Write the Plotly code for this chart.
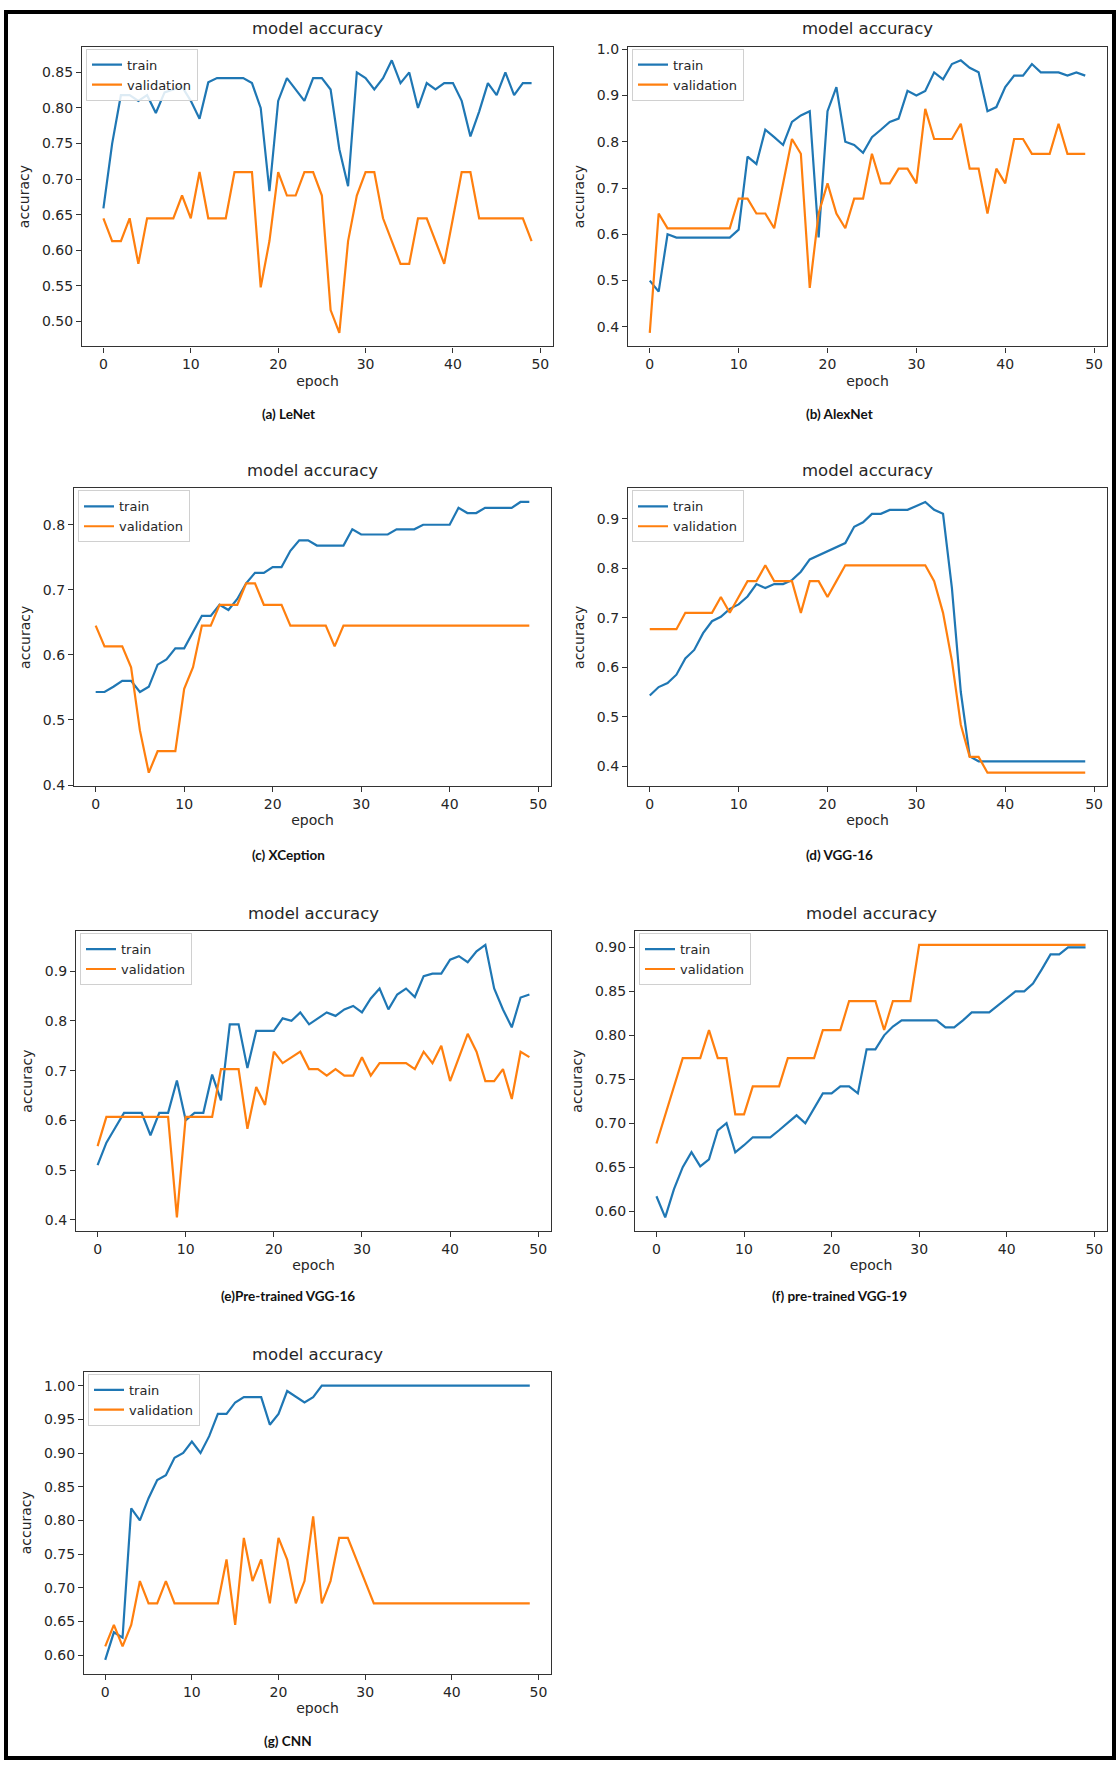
import plotly.graph_objects as go

W, H = 1119, 1769
epochs = list(range(50))

# ---------------- data ----------------
lenet_train = [0.659, 0.750, 0.818, 0.818, 0.810, 0.818, 0.793, 0.822, 0.826, 0.830,
               0.810, 0.785, 0.836, 0.842, 0.842, 0.842, 0.842, 0.835, 0.800, 0.683,
               0.810, 0.842, 0.826, 0.810, 0.842, 0.842, 0.826, 0.742, 0.690, 0.850,
               0.842, 0.826, 0.842, 0.867, 0.835, 0.850, 0.800, 0.835, 0.826, 0.835,
               0.835, 0.810, 0.760, 0.795, 0.835, 0.818, 0.850, 0.818, 0.835, 0.835]
lenet_val = [0.645, 0.613, 0.613, 0.645, 0.581, 0.645, 0.645, 0.645, 0.645, 0.677,
             0.645, 0.710, 0.645, 0.645, 0.645, 0.710, 0.710, 0.710, 0.548, 0.613,
             0.710, 0.677, 0.677, 0.710, 0.710, 0.677, 0.516, 0.484, 0.613, 0.677,
             0.710, 0.710, 0.645, 0.613, 0.581, 0.581, 0.645, 0.645, 0.613, 0.581,
             0.645, 0.710, 0.710, 0.645, 0.645, 0.645, 0.645, 0.645, 0.645, 0.613]

alexnet_train = [0.500, 0.476, 0.600, 0.593, 0.593, 0.593, 0.593, 0.593, 0.593, 0.593,
                 0.610, 0.768, 0.752, 0.826, 0.810, 0.793, 0.843, 0.857, 0.866, 0.593,
                 0.866, 0.918, 0.800, 0.793, 0.776, 0.810, 0.826, 0.843, 0.850, 0.910,
                 0.900, 0.910, 0.950, 0.935, 0.968, 0.976, 0.960, 0.950, 0.866, 0.875,
                 0.918, 0.943, 0.943, 0.968, 0.950, 0.950, 0.950, 0.943, 0.950, 0.943]
alexnet_val = [0.387, 0.645, 0.613, 0.613, 0.613, 0.613, 0.613, 0.613, 0.613, 0.613,
               0.677, 0.677, 0.645, 0.645, 0.613, 0.710, 0.806, 0.774, 0.484, 0.645,
               0.710, 0.645, 0.613, 0.677, 0.677, 0.774, 0.710, 0.710, 0.742, 0.742,
               0.710, 0.871, 0.806, 0.806, 0.806, 0.839, 0.742, 0.742, 0.645, 0.742,
               0.710, 0.806, 0.806, 0.774, 0.774, 0.774, 0.839, 0.774, 0.774, 0.774]

xception_train = [0.543, 0.543, 0.551, 0.560, 0.560, 0.543, 0.551, 0.585, 0.593, 0.610,
                  0.610, 0.635, 0.660, 0.660, 0.677, 0.669, 0.686, 0.710, 0.726, 0.726,
                  0.735, 0.735, 0.760, 0.776, 0.776, 0.768, 0.768, 0.768, 0.768, 0.793,
                  0.785, 0.785, 0.785, 0.785, 0.793, 0.793, 0.793, 0.800, 0.800, 0.800,
                  0.800, 0.826, 0.818, 0.818, 0.826, 0.826, 0.826, 0.826, 0.835, 0.835]
xception_val = [0.645, 0.613, 0.613, 0.613, 0.581, 0.484, 0.419, 0.452, 0.452, 0.452,
                0.548, 0.581, 0.645, 0.645, 0.677, 0.677, 0.677, 0.710, 0.710, 0.677,
                0.677, 0.677, 0.645, 0.645, 0.645, 0.645, 0.645, 0.613, 0.645, 0.645,
                0.645, 0.645, 0.645, 0.645, 0.645, 0.645, 0.645, 0.645, 0.645, 0.645,
                0.645, 0.645, 0.645, 0.645, 0.645, 0.645, 0.645, 0.645, 0.645, 0.645]

vgg16_train = [0.543, 0.560, 0.568, 0.585, 0.618, 0.635, 0.669, 0.693, 0.702, 0.718,
               0.727, 0.743, 0.768, 0.760, 0.768, 0.768, 0.776, 0.793, 0.818, 0.826,
               0.835, 0.843, 0.851, 0.884, 0.893, 0.910, 0.910, 0.918, 0.918, 0.918,
               0.926, 0.934, 0.918, 0.910, 0.760, 0.550, 0.420, 0.410, 0.410, 0.410,
               0.410, 0.410, 0.410, 0.410, 0.410, 0.410, 0.410, 0.410, 0.410, 0.410]
vgg16_val = [0.677, 0.677, 0.677, 0.677, 0.710, 0.710, 0.710, 0.710, 0.742, 0.710,
             0.742, 0.774, 0.774, 0.806, 0.774, 0.774, 0.774, 0.710, 0.774, 0.774,
             0.742, 0.774, 0.806, 0.806, 0.806, 0.806, 0.806, 0.806, 0.806, 0.806,
             0.806, 0.806, 0.774, 0.710, 0.613, 0.484, 0.419, 0.419, 0.387, 0.387,
             0.387, 0.387, 0.387, 0.387, 0.387, 0.387, 0.387, 0.387, 0.387, 0.387]

pt_vgg16_train = [0.510, 0.555, 0.585, 0.615, 0.615, 0.615, 0.570, 0.615, 0.615, 0.680,
                  0.600, 0.615, 0.615, 0.692, 0.640, 0.793, 0.793, 0.705, 0.780, 0.780,
                  0.780, 0.805, 0.800, 0.817, 0.793, 0.805, 0.817, 0.810, 0.823, 0.830,
                  0.817, 0.845, 0.865, 0.823, 0.853, 0.865, 0.848, 0.890, 0.895, 0.895,
                  0.923, 0.930, 0.918, 0.940, 0.953, 0.865, 0.823, 0.787, 0.847, 0.853]
pt_vgg16_val = [0.548, 0.607, 0.607, 0.607, 0.607, 0.607, 0.607, 0.607, 0.607, 0.405,
                0.607, 0.607, 0.607, 0.607, 0.703, 0.703, 0.703, 0.583, 0.667, 0.631,
                0.738, 0.715, 0.727, 0.738, 0.703, 0.703, 0.690, 0.703, 0.690, 0.690,
                0.727, 0.690, 0.715, 0.715, 0.715, 0.715, 0.703, 0.738, 0.715, 0.750,
                0.679, 0.727, 0.774, 0.738, 0.679, 0.679, 0.703, 0.643, 0.738, 0.727]

pt_vgg19_train = [0.617, 0.593, 0.625, 0.650, 0.667, 0.651, 0.659, 0.692, 0.700, 0.667,
                  0.675, 0.684, 0.684, 0.684, 0.692, 0.700, 0.709, 0.700, 0.717, 0.734,
                  0.734, 0.742, 0.742, 0.734, 0.784, 0.784, 0.800, 0.810, 0.817, 0.817,
                  0.817, 0.817, 0.817, 0.809, 0.809, 0.817, 0.826, 0.826, 0.826, 0.834,
                  0.842, 0.850, 0.850, 0.859, 0.875, 0.892, 0.892, 0.900, 0.900, 0.900]
pt_vgg19_val = [0.677, 0.710, 0.742, 0.774, 0.774, 0.774, 0.806, 0.774, 0.774, 0.710,
                0.710, 0.742, 0.742, 0.742, 0.742, 0.774, 0.774, 0.774, 0.774, 0.806,
                0.806, 0.806, 0.839, 0.839, 0.839, 0.839, 0.806, 0.839, 0.839, 0.839,
                0.903, 0.903, 0.903, 0.903, 0.903, 0.903, 0.903, 0.903, 0.903, 0.903,
                0.903, 0.903, 0.903, 0.903, 0.903, 0.903, 0.903, 0.903, 0.903, 0.903]

cnn_train = [0.593, 0.634, 0.626, 0.818, 0.800, 0.833, 0.860, 0.867, 0.893, 0.900,
             0.917, 0.900, 0.925, 0.958, 0.958, 0.975, 0.983, 0.983, 0.983, 0.942,
             0.958, 0.992, 0.983, 0.975, 0.983, 1.000, 1.000, 1.000, 1.000, 1.000,
             1.000, 1.000, 1.000, 1.000, 1.000, 1.000, 1.000, 1.000, 1.000, 1.000,
             1.000, 1.000, 1.000, 1.000, 1.000, 1.000, 1.000, 1.000, 1.000, 1.000]
cnn_val = [0.613, 0.645, 0.613, 0.645, 0.710, 0.677, 0.677, 0.710, 0.677, 0.677,
           0.677, 0.677, 0.677, 0.677, 0.742, 0.645, 0.774, 0.710, 0.742, 0.677,
           0.774, 0.742, 0.677, 0.710, 0.806, 0.677, 0.710, 0.774, 0.774, 0.742,
           0.710, 0.677, 0.677, 0.677, 0.677, 0.677, 0.677, 0.677, 0.677, 0.677,
           0.677, 0.677, 0.677, 0.677, 0.677, 0.677, 0.677, 0.677, 0.677, 0.677]

captions = ["(a) LeNet", "(b) AlexNet", "(c) XCeption", "(d) VGG-16",
            "(e)Pre-trained VGG-16", "(f) pre-trained VGG-19", "(g) CNN"]
series_names = ["train", "validation"]
x_ticks = [0, 10, 20, 30, 40, 50]

# ---------------- layout (pixel boxes: left, top, right, bottom) ----------------
panels = [
    dict(tr=lenet_train, va=lenet_val, box=(82, 41, 553, 343), dt=0.05, fmt=".2f", cap=(288, 411)),
    dict(tr=alexnet_train, va=alexnet_val, box=(628, 41, 1107, 343), dt=0.1, fmt=".1f", cap=(840, 411)),
    dict(tr=xception_train, va=xception_val, box=(74, 486, 551, 786), dt=0.1, fmt=".1f", cap=(288, 855)),
    dict(tr=vgg16_train, va=vgg16_val, box=(628, 486, 1107, 786), dt=0.1, fmt=".1f", cap=(840, 855)),
    dict(tr=pt_vgg16_train, va=pt_vgg16_val, box=(76, 932, 551, 1234), dt=0.1, fmt=".1f", cap=(288, 1300)),
    dict(tr=pt_vgg19_train, va=pt_vgg19_val, box=(635, 932, 1107, 1234), dt=0.05, fmt=".2f", cap=(840, 1300)),
    dict(tr=cnn_train, va=cnn_val, box=(84, 1376, 551, 1680), dt=0.05, fmt=".2f", cap=(288, 1748)),
]

BLUE, ORANGE = "#1f77b4", "#ff7f0e"
FONT = "DejaVu Sans"
TXT = "#262626"

fig = go.Figure()
layout = dict(width=W, height=H, margin=dict(l=0, r=0, t=0, b=0),
              paper_bgcolor="white", plot_bgcolor="white", showlegend=True)
annotations = []
shapes = []

def px(x):
    return x / W

def py(y):
    return 1 - y / H

for i, p in enumerate(panels, start=1):
    L, T, R, B = p["box"]
    xa = "x" if i == 1 else f"x{i}"
    ya = "y" if i == 1 else f"y{i}"
    lg = "legend" if i == 1 else f"legend{i}"
    for vals, name, col in ((p["tr"], series_names[0], BLUE), (p["va"], series_names[1], ORANGE)):
        fig.add_trace(go.Scatter(x=epochs, y=vals, mode="lines", name=name,
                                 line=dict(color=col, width=2.2), xaxis=xa, yaxis=ya,
                                 legend=lg, showlegend=True))
    allv = p["tr"] + p["va"]
    lo, hi = min(allv), max(allv)
    pad = 0.05 * (hi - lo)
    xkey = "xaxis" if i == 1 else f"xaxis{i}"
    ykey = "yaxis" if i == 1 else f"yaxis{i}"
    axis_common = dict(showline=True, mirror=True, linecolor="#333333", linewidth=1.3,
                       ticks="outside", ticklen=5, tickwidth=1.2, tickcolor="#333333",
                       showgrid=False, zeroline=False,
                       tickfont=dict(family=FONT, size=14, color=TXT))
    layout[xkey] = dict(domain=[px(L), px(R)], range=[-2.45, 51.45], tickvals=x_ticks,
                        anchor=ya,
                        title=dict(text="epoch", font=dict(family=FONT, size=14, color=TXT), standoff=4),
                        **axis_common)
    layout[ykey] = dict(domain=[py(B), py(T)], range=[lo - pad, hi + pad], dtick=p["dt"],
                        tickformat=p["fmt"], anchor=xa,
                        title=dict(text="accuracy", font=dict(family=FONT, size=14, color=TXT), standoff=8),
                        **axis_common)
    layout[lg] = dict(x=px(L + 4), y=py(T + 2), xanchor="left", yanchor="top",
                      bgcolor="rgba(255,255,255,0.85)", bordercolor="#d0d0d0", borderwidth=1,
                      font=dict(family=FONT, size=13, color=TXT), tracegroupgap=0,
                      itemwidth=30)
    annotations.append(dict(text="model accuracy", x=px((L + R) / 2), y=py(T - 18),
                            xref="paper", yref="paper", showarrow=False,
                            xanchor="center", yanchor="middle",
                            font=dict(family=FONT, size=16.5, color=TXT)))
    annotations.append(dict(text=captions[i - 1], x=px(p["cap"][0]), y=py(p["cap"][1]),
                            xref="paper", yref="paper", showarrow=False,
                            xanchor="center", yanchor="middle",
                            font=dict(family="Lato", size=13.5, color="#111111", weight="bold")))

shapes.append(dict(type="rect", xref="paper", yref="paper",
                   x0=px(6), x1=px(1114), y0=py(1765), y1=py(6),
                   line=dict(color="black", width=4)))

layout["annotations"] = annotations
layout["shapes"] = shapes
fig.update_layout(**layout)
fig.write_html(
    "out.html",
    config={"displayModeBar": False},
    post_script=("document.body.style.margin='0';document.body.style.overflow='hidden';"
                 "var d=document.getElementById('{plot_id}');"
                 "d.style.position='fixed';d.style.left='0px';d.style.top='0px';"),
)
